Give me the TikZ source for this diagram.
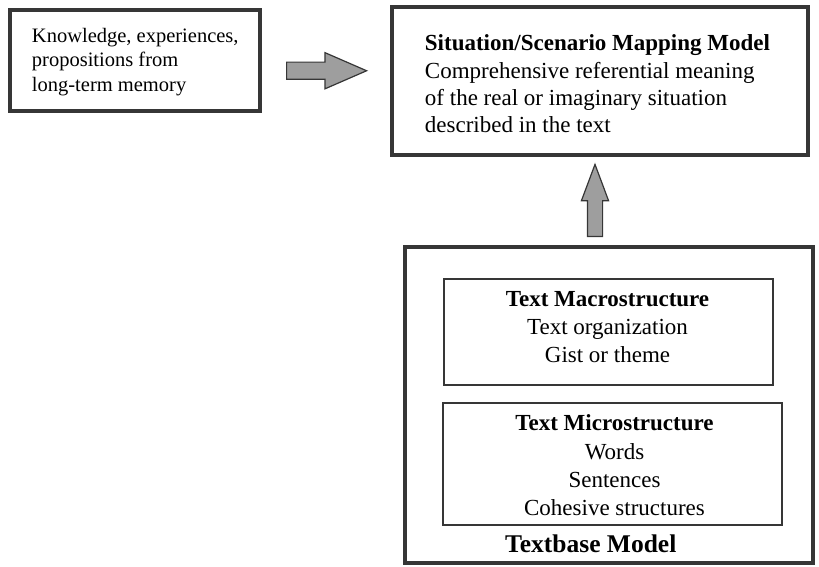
\documentclass[tikz,border=0pt]{standalone}
\usepackage{fontspec}
\setmainfont{Liberation Serif}
\usetikzlibrary{shapes.arrows, positioning, calc}
\definecolor{boxline}{HTML}{363636}
\definecolor{arrowfill}{HTML}{9E9E9E}

\begin{document}
\begin{tikzpicture}[
        x=1pt, y=-1pt,
        outerbox/.style={rectangle, draw=boxline, line width=4.5pt, fill=white, inner sep=0pt},
        innerbox/.style={rectangle, draw=boxline, line width=2.5pt, inner sep=0pt},
        boxtext/.style={inner sep=0pt, font=\fontsize{23}{28.3}\selectfont},
        blockarrow/.style={single arrow, draw=boxline, fill=arrowfill, line width=1.2pt, inner xsep=0pt, minimum width=0pt, single arrow head indent=0pt, anchor=tail}
    ]
        \useasboundingbox (0,0) rectangle (819,567);

        \node[outerbox, minimum width=250pt, minimum height=101pt] (memory) at (135,60.5) {};
        \node[outerbox, minimum width=416pt, minimum height=148pt] (situation) at (600,81) {};
        \node[outerbox, minimum width=408pt, minimum height=316pt] (textbase) at (609,405) {};
        \node[innerbox, minimum width=329pt, minimum height=106pt] (macro) at (608.5,332) {};
        \node[innerbox, minimum width=339pt, minimum height=122pt] (micro) at (612.5,464) {};

        \node[boxtext, font=\fontsize{20.5}{24.5}\selectfont, align=left, anchor=north west] (memorytext) at ($(memory.north west)+(24,20)$) {Knowledge, experiences,\\propositions from\\long-term memory};
        \node[boxtext, font=\fontsize{23}{27.3}\selectfont, align=left, anchor=north west] (situationtext) at ($(situation.north west)+(35,30)$) {\textbf{Situation/Scenario Mapping Model}\\Comprehensive referential meaning\\of the real or imaginary situation\\described in the text};
        \node[boxtext, align=center, anchor=north] (macrotext) at ($(macro.north)+(-1,13)$) {\textbf{Text Macrostructure}\\Text organization\\Gist or theme};
        \node[boxtext, align=center, anchor=north] (microtext) at ($(micro.north)+(2,13)$) {\textbf{Text Microstructure}\\Words\\Sentences\\Cohesive structures};
        \node[boxtext, font=\fontsize{25.5}{30}\selectfont\bfseries, anchor=west] (textbasetext) at (505,544) {Textbase Model};

        \node[blockarrow, inner ysep=8pt, single arrow head extend=9.5pt, single arrow tip angle=47, minimum height=80pt] (toright) at ($(memory.east)!0.5!(situation.west)+(-40,0)$) {};
        \node[blockarrow, rotate=90, inner ysep=7pt, single arrow head extend=6pt, single arrow tip angle=41, minimum height=72pt] (toup) at ($(situation.south)!0.5!(situation.south|-textbase.north)+(-5,36)$) {};
    \end{tikzpicture}
\end{document}
